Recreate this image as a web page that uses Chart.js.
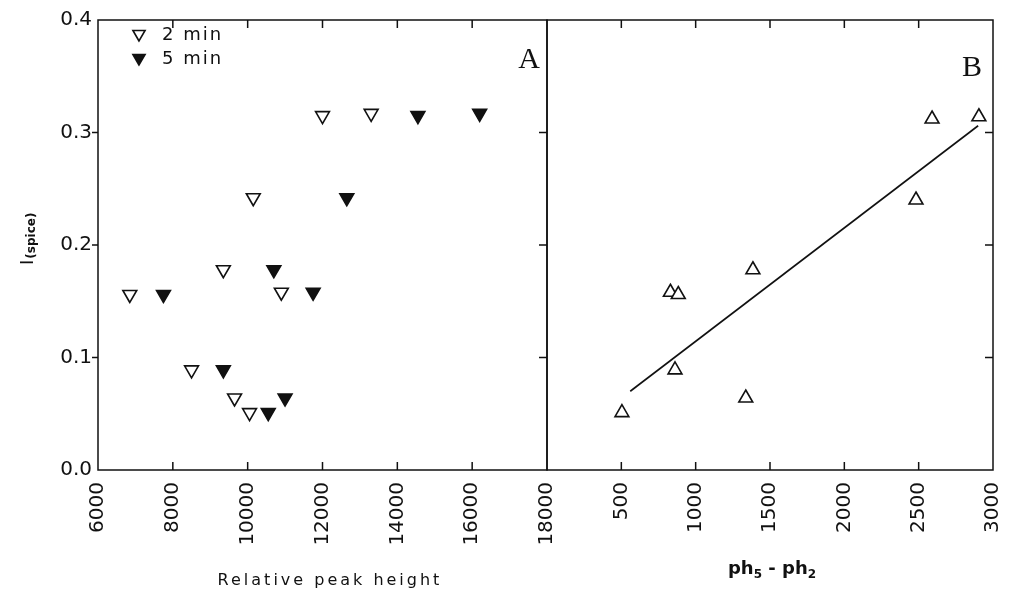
<!DOCTYPE html>
<html>
<head>
<meta charset="utf-8">
<script src="https://cdn.jsdelivr.net/npm/chart.js@4/dist/chart.umd.min.js"></script>
<style>
  html, body { margin: 0; padding: 0; background: #fff; }
  #wrap { position: relative; width: 1011px; height: 591px; overflow: hidden; background: #fff; }
  canvas { position: absolute; top: 0; }
  #cA { left: 0; }
  #cB { left: 530px; }
</style>
</head>
<body>
<div id="wrap">
  <canvas id="cA" width="560" height="591"></canvas>
  <canvas id="cB" width="481" height="591"></canvas>
</div>
<script>
// ---- data ----
const xTicksA = [6000, 8000, 10000, 12000, 14000, 16000, 18000];
const xTicksB = [500, 1000, 1500, 2000, 2500, 3000];
const yTicks = [0.0, 0.1, 0.2, 0.3, 0.4];

const min2X = [6850, 8500, 9350, 9650, 10050, 10150, 10900, 12000, 13300];
const min2Y = [0.156, 0.089, 0.178, 0.064, 0.051, 0.242, 0.158, 0.315, 0.317];
const min5X = [7750, 9350, 10550, 10700, 11000, 11750, 12650, 14550, 16200];
const min5Y = [0.156, 0.089, 0.051, 0.178, 0.064, 0.158, 0.242, 0.315, 0.317];

const diffX = [504, 830, 883, 861, 1337, 1385, 2482, 2590, 2905];
const diffY = [0.051, 0.158, 0.156, 0.089, 0.064, 0.178, 0.240, 0.312, 0.314];

const fitX = [560, 2900];
const fitY = [0.070, 0.306];

const legendLabels = ['2 min', '5 min'];

// ---- styling ----
const INK = '#111';
const tickFont = { family: 'DejaVu Sans', size: 20, weight: 'normal' };
const zip = (xs, ys) => xs.map((x, i) => ({ x: x, y: ys[i] }));

function triPath(ctx, x, y, r, down) {
  const s = down ? -1 : 1;
  const h = Math.sin(Math.PI / 3) * r;
  ctx.beginPath();
  ctx.moveTo(x, y - s * r);
  ctx.lineTo(x - h, y + s * r / 2);
  ctx.lineTo(x + h, y + s * r / 2);
  ctx.closePath();
}

const frameTicks = {
  id: 'frameTicks',
  afterDatasetsDraw(chart, args, o) {
    const { ctx, chartArea: a, scales } = chart;
    ctx.save();
    ctx.strokeStyle = INK;
    ctx.lineWidth = 1.5;
    ctx.strokeRect(a.left, a.top, a.right - a.left, a.bottom - a.top);
    const L = 8;
    ctx.beginPath();
    o.xTicks.forEach(v => {
      const x = scales.x.getPixelForValue(v);
      if (x <= a.left + 1 || x >= a.right - 1) return;
      ctx.moveTo(x, a.bottom); ctx.lineTo(x, a.bottom - L);
      ctx.moveTo(x, a.top); ctx.lineTo(x, a.top + L);
    });
    o.yTicks.forEach(v => {
      const y = scales.y.getPixelForValue(v);
      if (y <= a.top + 1 || y >= a.bottom - 1) return;
      if (o.leftOut) { ctx.moveTo(a.left, y); ctx.lineTo(a.left - 6, y); }
      if (o.rightIn) { ctx.moveTo(a.right, y); ctx.lineTo(a.right - L, y); }
    });
    ctx.stroke();
    ctx.restore();
  }
};

const annotations = {
  id: 'annotations',
  afterDraw(chart, args, o) {
    const ctx = chart.ctx;
    ctx.save();
    ctx.fillStyle = INK;
    if (o.draw) o.draw(ctx, chart);
    ctx.restore();
  }
};

function xScale(min, max, ticksArr) {
  return {
    type: 'linear', min: min, max: max,
    afterBuildTicks: s => { s.ticks = ticksArr.map(v => ({ value: v })); },
    afterFit: s => { s.height = 121; s.paddingLeft = 0; s.paddingRight = 0; },
    grid: { display: false, drawTicks: false },
    border: { display: false },
    ticks: {
      maxRotation: 90, minRotation: 90, padding: 12,
      font: tickFont, color: INK,
      callback: v => String(v)
    }
  };
}

// ---- Panel A ----
new Chart(document.getElementById('cA'), {
  type: 'scatter',
  data: {
    datasets: [
      { label: legendLabels[0], data: zip(min2X, min2Y), pointStyle: 'triangle', rotation: 180,
        pointRadius: 8, backgroundColor: '#fff', borderColor: INK, borderWidth: 1.6 },
      { label: legendLabels[1], data: zip(min5X, min5Y), pointStyle: 'triangle', rotation: 180,
        pointRadius: 8, backgroundColor: INK, borderColor: INK, borderWidth: 1.6 }
    ]
  },
  options: {
    responsive: false, animation: false,
    layout: { padding: { top: 20, right: 13, left: 0, bottom: 0 } },
    plugins: {
      legend: { display: false }, tooltip: { enabled: false },
      frameTicks: { xTicks: xTicksA, yTicks: yTicks, leftOut: true, rightIn: true },
      annotations: {
        draw: (ctx, chart) => {
          // y title I(spice)
          ctx.save();
          ctx.translate(24, 265);
          ctx.rotate(-Math.PI / 2);
          ctx.textBaseline = 'alphabetic';
          ctx.textAlign = 'left';
          ctx.font = '18px "DejaVu Sans"';
          ctx.fillText('I', 0, 9);
          const w = ctx.measureText('I').width;
          ctx.font = 'bold 12px "DejaVu Sans"';
          ctx.fillText('(spice)', w + 1, 11);
          ctx.restore();
          // x title
          ctx.font = '16px "DejaVu Sans"';
          ctx.letterSpacing = '3px';
          ctx.textAlign = 'center';
          ctx.textBaseline = 'alphabetic';
          ctx.fillText('Relative peak height', 330, 585);
          ctx.letterSpacing = '0px';
          // panel letter
          ctx.font = '30px "Liberation Serif"';
          ctx.textBaseline = 'middle';
          ctx.fillText('A', 529, 60);
          // legend
          const ds = chart.data.datasets;
          const rows = [35, 59];
          ds.forEach((d, i) => {
            triPath(ctx, 139, rows[i] - 1, 7, true);
            ctx.fillStyle = d.backgroundColor;
            ctx.fill();
            ctx.lineWidth = 1.6;
            ctx.strokeStyle = INK;
            ctx.stroke();
            ctx.fillStyle = INK;
            ctx.font = '18px "DejaVu Sans"';
            ctx.letterSpacing = '2px';
            ctx.textAlign = 'left';
            ctx.textBaseline = 'middle';
            ctx.fillText(d.label, 162, rows[i]);
            ctx.letterSpacing = '0px';
          });
        }
      }
    },
    scales: {
      x: xScale(6000, 18000, xTicksA),
      y: {
        type: 'linear', min: 0, max: 0.4,
        afterBuildTicks: s => { s.ticks = yTicks.map(v => ({ value: v })); },
        afterFit: s => { s.width = 98; s.paddingTop = 0; s.paddingBottom = 0; },
        grid: { display: false, drawTicks: false },
        border: { display: false },
        ticks: { padding: 6, font: tickFont, color: INK, callback: v => Number(v).toFixed(1) }
      }
    }
  },
  plugins: [frameTicks, annotations]
});

// ---- Panel B ----
const OFFB = 530;
new Chart(document.getElementById('cB'), {
  type: 'scatter',
  data: {
    datasets: [
      { label: 'fit', type: 'line', data: zip(fitX, fitY), showLine: true, pointRadius: 0,
        borderColor: INK, borderWidth: 1.6, fill: false },
      { label: 'ph5 - ph2', data: zip(diffX, diffY), pointStyle: 'triangle', rotation: 0,
        pointRadius: 8, backgroundColor: '#fff', borderColor: INK, borderWidth: 1.6 }
    ]
  },
  options: {
    responsive: false, animation: false,
    layout: { padding: { top: 20, right: 18, left: 17, bottom: 0 } },
    plugins: {
      legend: { display: false }, tooltip: { enabled: false },
      frameTicks: { xTicks: xTicksB, yTicks: yTicks, leftOut: false, rightIn: true },
      annotations: {
        draw: (ctx, chart) => {
          // x title ph5 - ph2 (bold with subscripts)
          const cx = 772 - OFFB, cy = 574;
          const parts = [
            ['ph', 'bold 18px "DejaVu Sans"', 0],
            ['5', 'bold 12px "DejaVu Sans"', 4],
            [' - ', 'bold 18px "DejaVu Sans"', 0],
            ['ph', 'bold 18px "DejaVu Sans"', 0],
            ['2', 'bold 12px "DejaVu Sans"', 4]
          ];
          let total = 0;
          parts.forEach(p => { ctx.font = p[1]; total += ctx.measureText(p[0]).width; });
          let x = cx - total / 2;
          ctx.textAlign = 'left';
          ctx.textBaseline = 'alphabetic';
          parts.forEach(p => {
            ctx.font = p[1];
            ctx.fillText(p[0], x, cy + p[2]);
            x += ctx.measureText(p[0]).width;
          });
          ctx.font = '30px "Liberation Serif"';
          ctx.textAlign = 'center';
          ctx.textBaseline = 'middle';
          ctx.fillText('B', 972 - OFFB, 68);
        }
      }
    },
    scales: {
      x: xScale(0, 3000, xTicksB),
      y: { type: 'linear', min: 0, max: 0.4, display: false }
    }
  },
  plugins: [frameTicks, annotations]
});
</script>
</body>
</html>
